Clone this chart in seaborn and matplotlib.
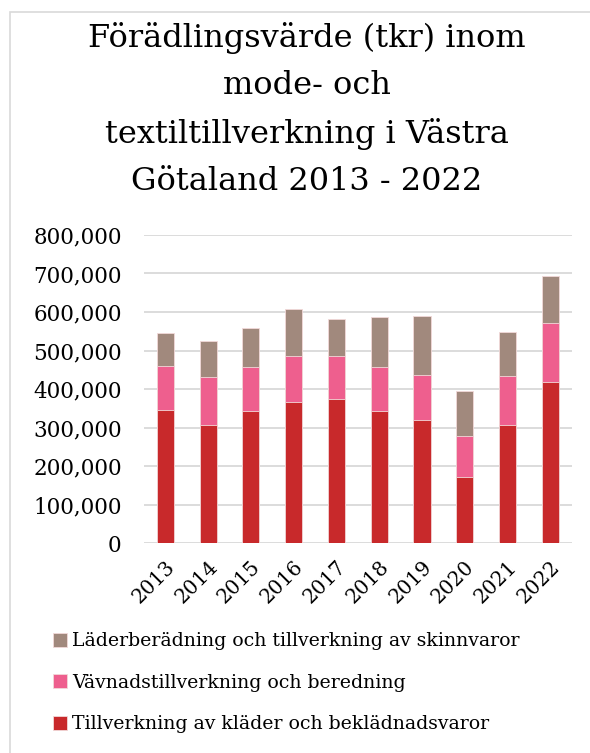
import pandas as pd
import matplotlib.pyplot as plt
import seaborn as sns
from matplotlib.patches import Rectangle
from matplotlib.ticker import FuncFormatter

sns.set_theme(style="white")
plt.rcParams['font.family'] = ['DejaVu Serif']
plt.rcParams['text.color'] = 'black'
plt.rcParams['xtick.color'] = 'black'
plt.rcParams['ytick.color'] = 'black'

# Data (tkr)
years = ["2013", "2014", "2015", "2016", "2017", "2018", "2019", "2020", "2021", "2022"]
klader = [346000, 307000, 343000, 367000, 375000, 344000, 319000, 173000, 308000, 418000]
vavnad = [114000, 125000, 114500, 118000, 112000, 113000, 117000, 105000, 127000, 154000]
lader = [85000, 92000, 100500, 123000, 94000, 129000, 153000, 118000, 114000, 121000]

labels = [
    "Tillverkning av kläder och beklädnadsvaror",
    "Vävnadstillverkning och beredning",
    "Läderberädning och tillverkning av skinnvaror",
]
colors = ["#C8292B", "#EE5F8E", "#A1897D"]

df = pd.DataFrame({"År": years, "klader": klader, "vavnad": vavnad, "lader": lader})
df["niva2"] = df["klader"] + df["vavnad"]
df["total"] = df["niva2"] + df["lader"]

fig = plt.figure(figsize=(5.9, 7.53), dpi=100)
ax = fig.add_axes([0.244, 0.2785, 0.725, 0.4095])

# Staplade staplar: ritar summorna bakifrån
for col, color, label in [("total", colors[2], labels[2]),
                          ("niva2", colors[1], labels[1]),
                          ("klader", colors[0], labels[0])]:
    sns.barplot(data=df, x="År", y=col, color=color, width=0.4, label=label,
                edgecolor="#F2D9D9", linewidth=0.6, saturation=1, ax=ax, zorder=3)

ax.set_ylim(0, 800000)
ax.set_yticks(range(0, 800001, 100000))
ax.yaxis.set_major_formatter(FuncFormatter(lambda v, p: f"{int(v):,}"))
ax.grid(axis="y", color="#D9D9D9", linewidth=1.3, zorder=0)
ax.set_axisbelow(True)
for s in ax.spines.values():
    s.set_visible(False)
ax.set_xlabel("")
ax.set_ylabel("")
ax.tick_params(axis="y", labelsize=15.5, pad=16, length=0)
ax.tick_params(axis="x", labelsize=14.5, length=0, pad=10)
plt.setp(ax.get_xticklabels(), rotation=45, ha="right", rotation_mode="anchor")
if ax.get_legend():
    ax.get_legend().remove()

fig.suptitle("Förädlingsvärde (tkr) inom\nmode- och\ntextiltillverkning i Västra\nGötaland 2013 - 2022",
             x=0.52, y=0.971, fontsize=23, linespacing=1.68, va="top", color="black")

# Legend underst
handles, lbls = ax.get_legend_handles_labels()
fig.legend(handles, lbls, loc="upper left", bbox_to_anchor=(0.061, 0.183),
           frameon=False, fontsize=13.6, handlelength=0.75, handleheight=0.75,
           handletextpad=0.25, labelspacing=1.25)

# Ram runt diagrammet
fig.patches.append(Rectangle((10 / 590, -0.01), 1.0, 1 - 12 / 753 + 0.01,
                             transform=fig.transFigure, fill=False,
                             edgecolor="#D9D9D9", linewidth=1.2))

fig.savefig("out.png", dpi=100)
